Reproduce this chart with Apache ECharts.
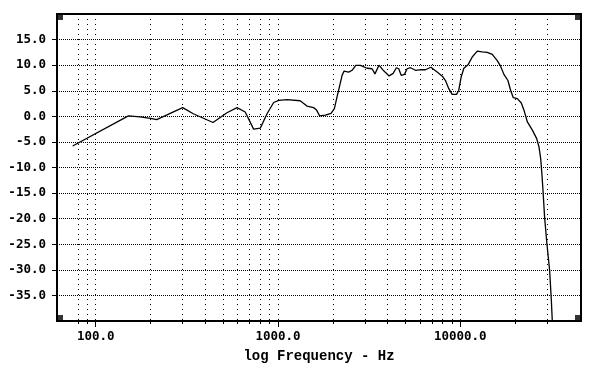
<!DOCTYPE html>
<html><head><meta charset="utf-8">
<script src="https://cdn.jsdelivr.net/npm/echarts@6/dist/echarts.min.js"></script>
<style>html,body{margin:0;padding:0;background:#fff}#c{width:594px;height:379px}</style>
</head><body><div id="c"></div>
<script>
const freqHz = [74.7,151,175,200,216,300,343,440,525,596,661,735,800,871,947,1010,1120,1324,1442,1569,1623,1693,1821,1955,2039,2109,2172,2248,2307,2344,2444,2552,2673,2833,3083,3283,3404,3583,3803,4075,4285,4467,4600,4743,4945,5110,5330,5680,6000,6444,6900,7475,8000,8300,8655,9030,9545,9820,10120,10470,11070,11640,12400,13200,14070,14990,15970,16650,17370,18270,18900,19560,20570,21640,22380,23360,24880,26280,27060,27650,28100,28460,29040,29900,30950,31620,32100];
const levelDb = [-5.8,0.1,-0.1,-0.4,-0.65,1.7,0.5,-1.2,0.7,1.7,0.85,-2.5,-2.3,0.5,2.7,3.1,3.25,3.05,2.0,1.7,1.3,0.1,0.25,0.6,1.5,3.8,5.7,8.0,8.85,9.0,8.65,9.0,9.96,9.95,9.4,9.3,8.3,10.0,8.9,7.9,8.4,9.5,9.3,8.0,8.2,9.3,9.5,9.0,9.1,9.1,9.6,8.65,7.8,7.0,5.4,4.3,4.3,5.1,7.7,9.4,10.15,11.6,12.75,12.6,12.5,12.1,10.9,9.8,8.2,7.0,5.1,3.65,3.45,2.6,1.2,-1.1,-2.7,-4.35,-6.0,-8.3,-11.5,-14.5,-19.7,-24.9,-30.1,-35.9,-41];
const majorTicksHz = [100, 1000, 10000];
const gridTicksHz = [80,90,100,200,300,400,500,600,700,800,900,1000,2000,3000,4000,5000,6000,7000,8000,9000,10000,20000,30000];
const xRange = [61.3, 46000];
const yRange = [-40, 20];
const yStep = 5;

const chart = echarts.init(document.getElementById('c'), null, {renderer: 'canvas'});
const labelFont = {fontFamily: 'DejaVu Sans Mono', fontWeight: 'bold', fontSize: 12.5, color: '#000'};
chart.setOption({
  animation: false,
  backgroundColor: '#fff',
  grid: {left: 57, top: 14, width: 524, height: 307, show: true, borderColor: '#000', borderWidth: 2, containLabel: false},
  xAxis: [
    {
      type: 'log', logBase: 10, min: xRange[0], max: xRange[1], position: 'bottom',
      axisLine: {show: true, onZero: false, lineStyle: {color: '#000', width: 2}},
      axisTick: {show: true, inside: false, length: 3, customValues: gridTicksHz, lineStyle: {color: '#000', width: 1}},
      axisLabel: {show: false},
      splitLine: {show: true, lineStyle: {color: '#000', width: 1, type: [1, 4]}}
    },
    {
      type: 'log', logBase: 10, min: xRange[0], max: xRange[1], position: 'bottom',
      axisLine: {show: false, onZero: false},
      axisTick: {show: true, inside: false, length: 6, customValues: majorTicksHz, lineStyle: {color: '#000', width: 1}},
      axisLabel: Object.assign({show: true, margin: 9, customValues: majorTicksHz, formatter: v => Number(v).toFixed(1)}, labelFont),
      splitLine: {show: false},
      name: 'log Frequency - Hz', nameLocation: 'middle', nameGap: 28,
      nameTextStyle: {fontFamily: 'Liberation Mono', fontWeight: 'bold', fontSize: 14, color: '#000'}
    }
  ],
  yAxis: {
    type: 'value', min: yRange[0], max: yRange[1], interval: yStep,
    axisLine: {show: true, onZero: false, lineStyle: {color: '#000', width: 2}},
    axisTick: {show: true, inside: false, length: 5, lineStyle: {color: '#000', width: 1}},
    axisLabel: Object.assign({margin: 11, showMinLabel: false, showMaxLabel: false, formatter: v => v.toFixed(1)}, labelFont),
    splitLine: {show: true, lineStyle: {color: '#000', width: 1, type: [1, 1]}}
  },
  series: [
    {
      type: 'line', xAxisIndex: 0, data: freqHz.map((f, i) => [f, levelDb[i]]),
      showSymbol: false, symbol: 'none', smooth: false, clip: true,
      lineStyle: {color: '#000', width: 1.3}, z: 5
    },
    {
      type: 'scatter', xAxisIndex: 0, clip: false, silent: true, z: 6,
      symbol: 'rect', symbolSize: 6, itemStyle: {color: '#000'},
      data: [
        {value: [xRange[0], yRange[1]], symbolOffset: [3, 3]},
        {value: [xRange[1], yRange[1]], symbolOffset: [-3, 3]},
        {value: [xRange[0], yRange[0]], symbolOffset: [3, -3]},
        {value: [xRange[1], yRange[0]], symbolOffset: [-3, -3]}
      ]
    }
  ]
});
</script></body></html>
